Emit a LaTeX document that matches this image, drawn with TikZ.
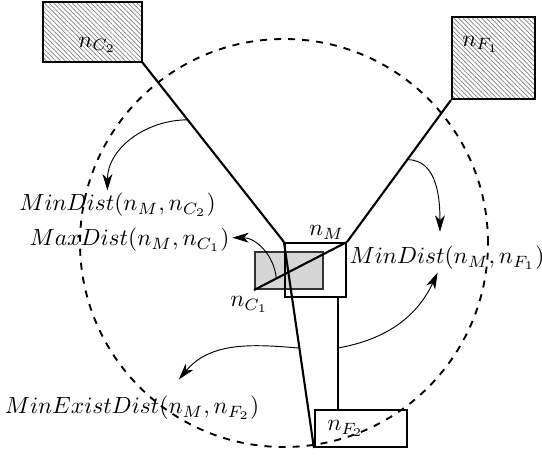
\documentclass[tikz,border=0pt]{standalone}
\usetikzlibrary{arrows.meta,positioning,calc,patterns.meta}
\tikzset{hatchbox/.style={draw,line width=0.9pt,inner sep=0pt,pattern={Lines[angle=-45,distance=1.4pt,line width=0.3pt]},pattern color=black!50},
plainbox/.style={draw,line width=0.9pt,inner sep=0pt},
graybox/.style={draw=black!80,fill=black!16,line width=0.9pt,inner sep=0pt},
tag/.style={inner sep=1pt},
link/.style={line width=0.9pt},
reach/.style={dashed,line width=0.8pt},
pointer/.style={-{Stealth[length=7pt,width=4.2pt,inset=2pt]},line width=0.4pt}}

\begin{document}
\begin{tikzpicture}[x=0.015cm,y=-0.015cm]
\useasboundingbox (0,0) rectangle (542,455);
\draw[reach] (284,243) circle[radius=3.06cm];
\node[hatchbox,minimum width=1.485cm,minimum height=0.9cm,label={[tag,anchor=south,xshift=2pt,yshift=2.8pt]south:$n_{C_2}$}](nC2)at(92.5,32){};
\node[hatchbox,minimum width=1.245cm,minimum height=1.23cm,label={[tag,anchor=north west,xshift=3.7pt,yshift=-7.5pt]north west:$n_{F_1}$}](nF1)at(493.5,58){};
\node[graybox,minimum width=1.02cm,minimum height=0.555cm,label={[tag,anchor=north,xshift=-2pt,yshift=-1.7pt]south west:$n_{C_1}$}](nC1)at(289,270.5){};
\node[plainbox,minimum width=0.915cm,minimum height=0.81cm,label={[tag,anchor=south,xshift=4.7pt]north:$n_M$}](nM)at(315.5,270){};
\node[plainbox,minimum width=1.38cm,minimum height=0.555cm,label={[tag,anchor=west,xshift=4.5pt]west:$n_{F_2}$}](nF2)at(361,428.5){};
% distance labels
\node[tag](minC2)at(117.5,205){$MinDist(n_M,n_{C_2})$};
\node[tag](maxC1)at(129.5,240){$MaxDist(n_M,n_{C_1})$};
\node[tag](minF1)at(447,258){$MinDist(n_M,n_{F_1})$};
\node[tag](existF2)at(132,408){$MinExistDist(n_M,n_{F_2})$};
% links to n_M
\draw[link](nC2.south east)--(nM.north west)coordinate[pos=0.32](a1);
\draw[link](nF1.south west)--(nM.north east)coordinate[pos=0.42](a3);
\draw[link](nC1.south west)--(nM.north east)coordinate[pos=0.24](a2);
\draw[link](nM.north west)--(nF2.south west)coordinate[pos=0.515](a5);
\draw[link]($(nM.south)+(22.5,0)$)coordinate(vtop)--(vtop|-nF2.north)coordinate[pos=0.45](a4);
% pointers
\draw[pointer](a1)to[out=180,in=90]([xshift=-4.3pt]minC2.north);
\draw[pointer](a2)to[out=95,in=0]([yshift=1pt]maxC1.east);
\draw[pointer](a3)to[out=0,in=90]([xshift=-3pt,yshift=5pt]minF1.north);
\draw[pointer](a4)to[out=10,in=-115]([xshift=-4pt]minF1.south);
\draw[pointer](a5)to[out=175,in=50]([xshift=20pt,yshift=6pt]existF2.north);
\end{tikzpicture}
\end{document}
